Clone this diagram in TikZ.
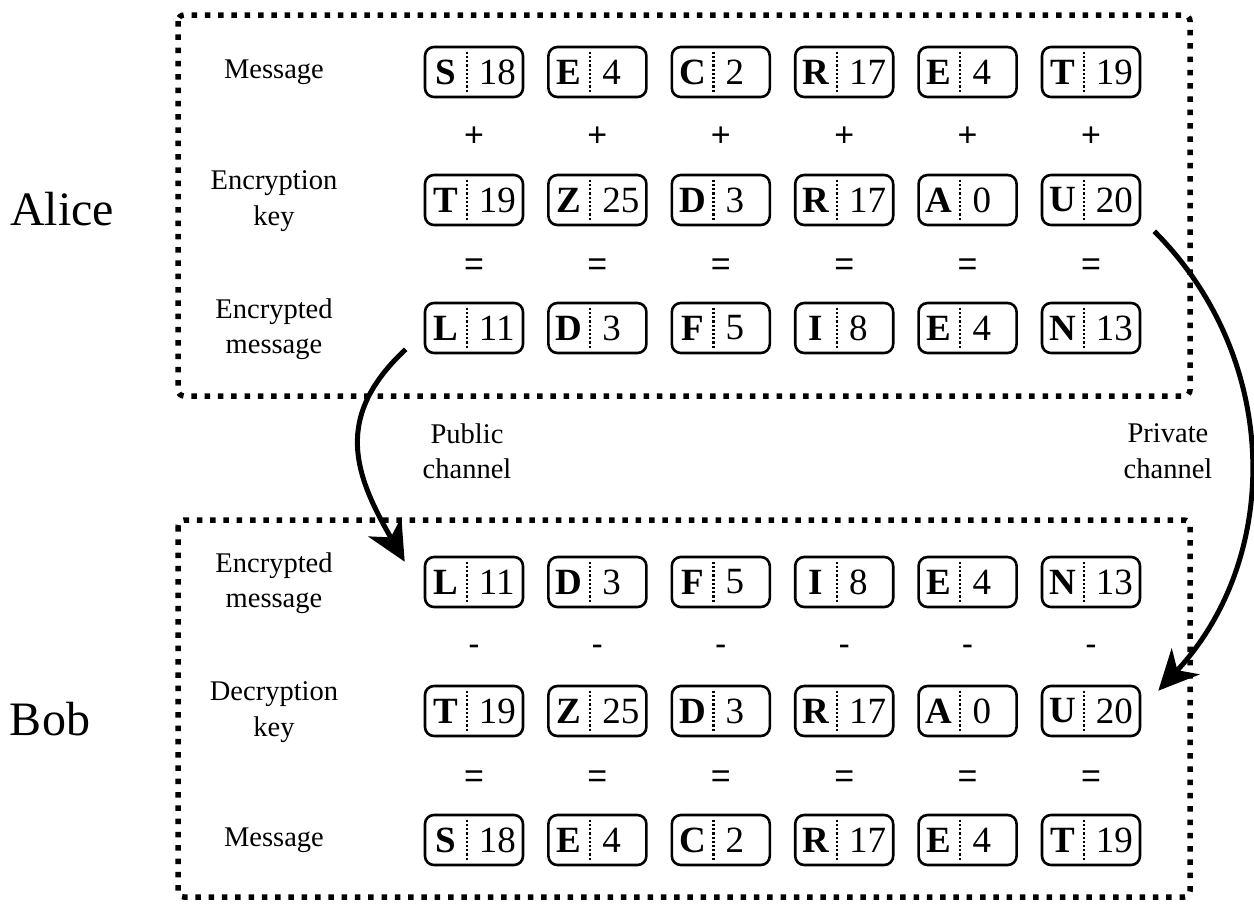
\documentclass[tikz,border=0pt]{standalone}
\usepackage{fontspec}
\setmainfont{Liberation Serif}
\newfontfamily\opfont{Liberation Sans}
\usetikzlibrary{arrows.meta,calc}

% one letter/number cell: name, x, y, letter, number
\newcommand\cellbox[5]{%
  \node[cell] (#1) at (#2,#3) {};
  \node[letter] (#1-l) at ($(#1.west)+(22,0)$) {#4};
  \draw[divider] ($(#1.north west)+(43,6)$) -- ($(#1.south west)+(43,-6)$);
  \node[number] (#1-n) at ($(#1.west)+(55,0)$) {#5};
}
% a row of six cells: name prefix, y, list of letter/number pairs
\newcommand\cellrow[3]{%
  \foreach [count=\k] \ltr/\num in {#3} {%
    \pgfmathsetmacro\cx{474+123.4*(\k-1)}%
    \cellbox{#1\k}{\cx}{#2}{\ltr}{\num}%
  }%
}

\begin{document}
\begin{tikzpicture}[x=1pt,y=-1pt,
  frame/.style={line width=5.5pt, dash pattern=on 5.5pt off 7.8pt, rounded corners=6pt},
  cell/.style={draw, line width=2.6pt, rounded corners=9pt, minimum width=98pt,
    minimum height=50pt, inner sep=0pt},
  letter/.style={font=\fontsize{37}{42}\selectfont\bfseries, inner sep=0pt},
  number/.style={font=\fontsize{37}{42}\selectfont, inner sep=0pt, anchor=west},
  divider/.style={line width=2.2pt, dash pattern=on 2.2pt off 2pt},
  rowlabel/.style={font=\fontsize{28.5}{35.5}\selectfont, align=center, inner sep=0pt},
  op/.style={font=\opfont\fontsize{34}{40}\selectfont, inner sep=0pt},
  party/.style={font=\fontsize{48}{56}\selectfont, inner sep=0pt, anchor=base},
  channel/.style={line width=5pt, -{Stealth[length=40pt,width=38pt,inset=12pt]}},
]
\useasboundingbox (0,0) rectangle (1254,903);

% dotted frames around each party
\draw[frame] (178,15) rectangle (1190,396);
\draw[frame] (178,520) rectangle (1190,897);

% party names
\node[party] (alice) at (62,225) {Alice};
\node[party] (bob) at (50,735) {Bob};

% row labels
\node[rowlabel, anchor=base] (lmsg1) at (274,78.5) {Message};
\node[rowlabel, anchor=north] (lkey1) at (274,170.5) {Encryption\\key};
\node[rowlabel, anchor=north] (lenc1) at (274,298.5) {Encrypted\\message};
\node[rowlabel, anchor=north] (lenc2) at (274,552.5) {Encrypted\\message};
\node[rowlabel, anchor=north] (lkey2) at (274,681.5) {Decryption\\key};
\node[rowlabel, anchor=base] (lmsg2) at (274,846.5) {Message};

% Alice: message + key = ciphertext
\cellrow{am}{72}{S/18, E/4, C/2, R/17, E/4, T/19}
\cellrow{ak}{200}{T/19, Z/25, D/3, R/17, A/0, U/20}
\cellrow{ac}{328}{L/11, D/3, F/5, I/8, E/4, N/13}

% Bob: ciphertext - key = message
\cellrow{bc}{582}{L/11, D/3, F/5, I/8, E/4, N/13}
\cellrow{bk}{711}{T/19, Z/25, D/3, R/17, A/0, U/20}
\cellrow{bm}{840}{S/18, E/4, C/2, R/17, E/4, T/19}

% operators between the rows
\foreach \k in {0,...,5} {
  \node[op] (plus\k) at (474+123.4*\k,137) {+};
  \node[op] (eqa\k) at (474+123.4*\k,267) {=};
  \node[op] (minus\k) at (474+123.4*\k,650) {-};
  \node[op] (eqb\k) at (474+123.4*\k,779) {=};
}

% channel labels
\node[rowlabel, anchor=north] (pub) at (467,423.5) {Public\\channel};
\node[rowlabel, anchor=north] (priv) at (1168,423.5) {Private\\channel};

% ciphertext over the public channel, key over the private channel
\coordinate (pubA) at ($(ac1.south west)+(-18,-5)$);
\coordinate (pubB) at ($(bc1.north west)+(-19,6)$);
\draw[channel] (pubA) .. controls ($(pubA)+(-73,68)$) and ($(pubB)+(-50,-87)$) .. (pubB);
\coordinate (privA) at ($(ak6.south east)+(13,5)$);
\coordinate (privB) at ($(bk6.north east)+(17,6)$);
\draw[channel] (privA) .. controls ($(privA)+(127,127)$) and ($(privB)+(124,-133)$) .. (privB);
\end{tikzpicture}
\end{document}
